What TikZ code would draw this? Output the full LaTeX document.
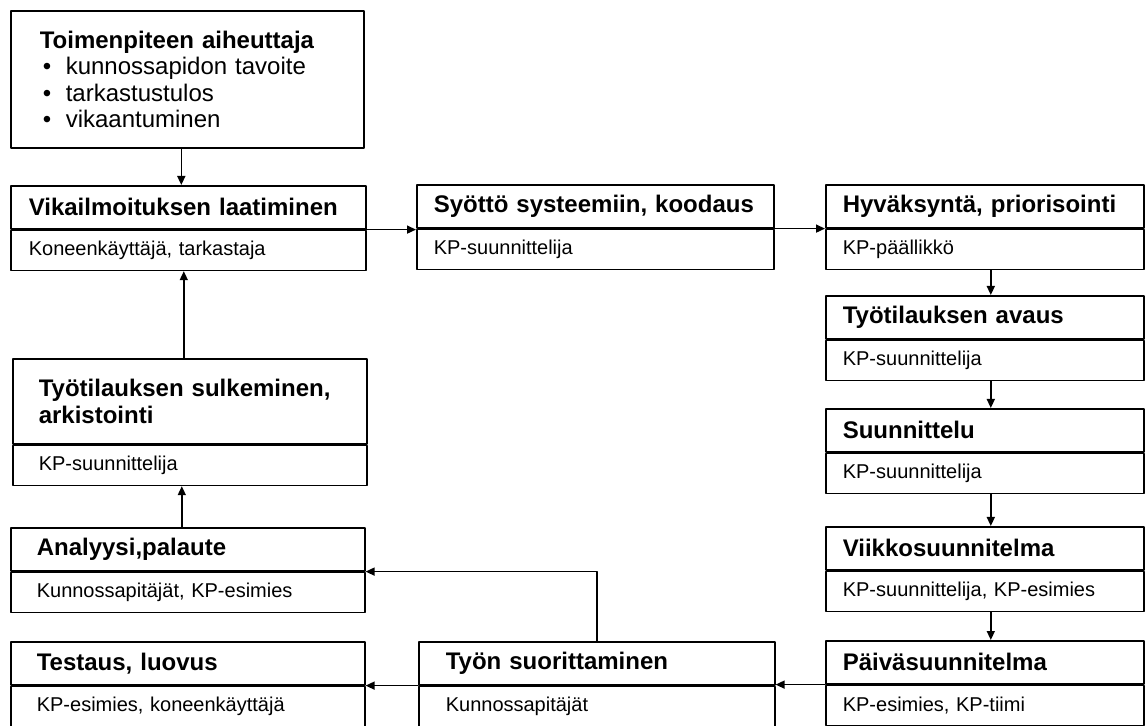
\documentclass[tikz,border=0pt]{standalone}
\usepackage{fontspec}
\setmainfont{Liberation Sans}
\usetikzlibrary{arrows.meta}
\newcommand\kohta[1]{{\mdseries\makebox[13pt][l]{\hspace{1.5pt}\textbullet}#1}}

\begin{document}
\begin{tikzpicture}[line cap=round,line join=round,>={Triangle[length=4.5pt,width=4pt]},x=0.5pt,y=-0.5pt,
    part/.style={draw,line width=0.8pt,anchor=north west,align=left,inner ysep=0pt},
    head/.style={part,minimum height=21.5pt,font=\fontsize{12}{13.25}\selectfont\bfseries},
    foot/.style={part,minimum height=20pt,font=\fontsize{10}{12}\selectfont},
    lcol/.style={inner xsep=9pt,text width=159.5pt},
    lwide/.style={inner xsep=13pt,text width=151pt},
    mcol/.style={inner xsep=8.5pt,text width=161.5pt},
    tcol/.style={inner xsep=13.5pt,text width=151pt},
    rcol/.style={inner xsep=8.5pt,text width=142pt},
    flow/.style={->,line width=0.75pt}]
\useasboundingbox (0,0) rectangle (1145,726);
% left column
\node[head,inner xsep=14.5pt,text width=147.5pt,minimum height=68.5pt] (aih) at (10,10)
    {Toimenpiteen aiheuttaja\\ \kohta{kunnossapidon tavoite}\\ \kohta{tarkastustulos}\\ \kohta{vikaantuminen}};
\node[head,lcol] (vikh) at (10,185) {Vikailmoituksen laatiminen};
\node[foot,lcol] (viks) at (vikh.south west) {Koneenkäyttäjä, tarkastaja};
\node[head,lwide,minimum height=42.5pt] (sulkh) at (12,358) {Työtilauksen sulkeminen,\\ arkistointi};
\node[foot,lwide] (sulks) at (sulkh.south west) {KP-suunnittelija};
\node[head,lwide] (analh) at (10,527) {Analyysi,palaute};
\node[foot,lwide] (anals) at (analh.south west) {Kunnossapitäjät, KP-esimies};
\node[head,lwide] (testh) at (10,641) {Testaus, luovus};
\node[foot,lwide] (tests) at (testh.south west) {KP-esimies, koneenkäyttäjä};
% middle
\node[head,mcol] (syoh) at (416,184) {Syöttö systeemiin, koodaus};
\node[foot,mcol] (syos) at (syoh.south west) {KP-suunnittelija};
\node[head,tcol] (tyonh) at (418,641) {Työn suorittaminen};
\node[foot,tcol] (tyons) at (tyonh.south west) {Kunnossapitäjät};
% right column
\node[head,rcol] (hyvh) at (825,184) {Hyväksyntä, priorisointi};
\node[foot,rcol] (hyvs) at (hyvh.south west) {KP-päällikkö};
\node[head,rcol] (avah) at (825,295) {Työtilauksen avaus};
\node[foot,rcol] (avas) at (avah.south west) {KP-suunnittelija};
\node[head,rcol] (suuh) at (825,408) {Suunnittelu};
\node[foot,rcol] (suus) at (suuh.south west) {KP-suunnittelija};
\node[head,rcol] (viih) at (825,526) {Viikkosuunnitelma};
\node[foot,rcol] (viis) at (viih.south west) {KP-suunnittelija, KP-esimies};
\node[head,rcol] (paih) at (825,640) {Päiväsuunnitelma};
\node[foot,rcol] (pais) at (paih.south west) {KP-esimies, KP-tiimi};
% arrows
\draw[flow] ([xshift=-3pt]aih.south) -- ([xshift=-3pt]aih.south |- vikh.north);
\draw[flow] (vikh.south east) -- (vikh.south east -| syoh.west);
\draw[flow] (syoh.south east) -- (syoh.south east -| hyvh.west);
\draw[flow] ([xshift=3pt]hyvs.south) -- ([xshift=3pt]hyvs.south |- avah.north);
\draw[flow] ([xshift=3pt]avas.south) -- ([xshift=3pt]avas.south |- suuh.north);
\draw[flow] ([xshift=3pt]suus.south) -- ([xshift=3pt]suus.south |- viih.north);
\draw[flow] ([xshift=3pt]viis.south) -- ([xshift=3pt]viis.south |- paih.north);
\draw[flow] (paih.south west) -- (paih.south west -| tyonh.east);
\draw[flow] (tyonh.south west) -- (tyonh.south west -| testh.east);
\draw[flow] (tyonh.north) |- (analh.south east);
\draw[flow] ([xshift=-3pt]analh.north) -- ([xshift=-3pt]analh.north |- sulks.south);
\draw[flow] ([xshift=-3pt]sulkh.north) -- ([xshift=-3pt]sulkh.north |- viks.south);
\end{tikzpicture}
\end{document}
